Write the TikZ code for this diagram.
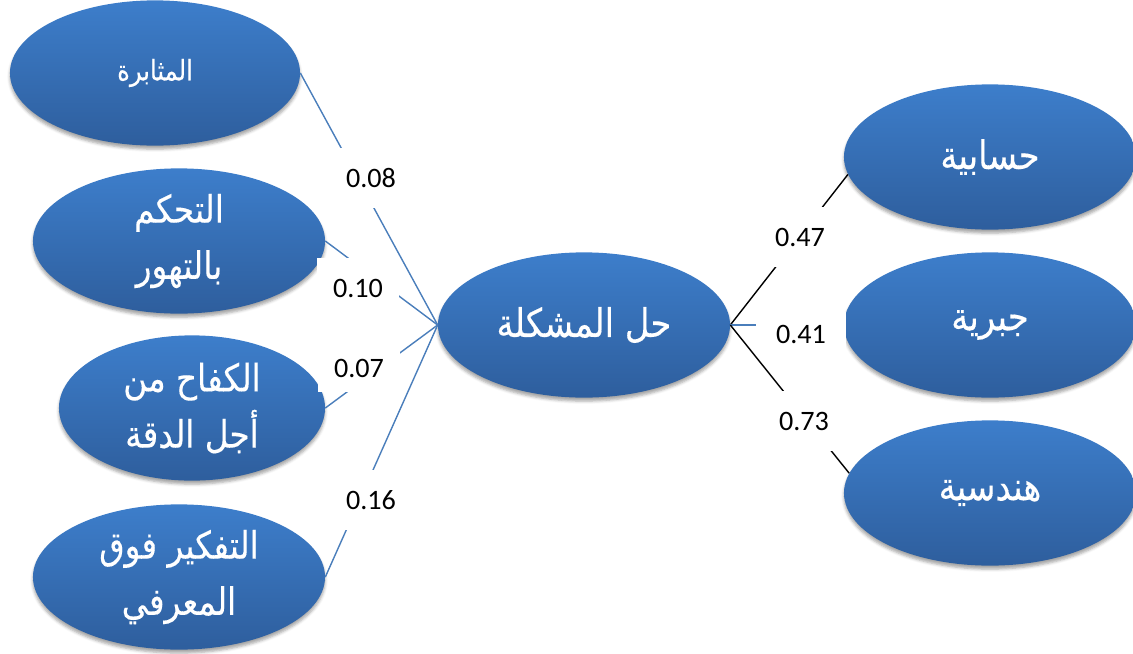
\documentclass[tikz,border=0pt]{standalone}
\usepackage{fontspec}
\setmainfont{Carlito}
\newfontfamily\arabicfont[Script=Arabic, FakeStretch=0.86, FakeBold=0.3]{DejaVu Sans}
\TeXXeTstate=1
\usepackage{tikz}
\usetikzlibrary{shapes.geometric}
\usetikzlibrary{shadows.blur}
\usepackage{xcolor}
\definecolor{blobtop}{HTML}{3D7ECB}
\definecolor{blobbot}{HTML}{2E5E9D}
\definecolor{linkblue}{HTML}{4A7EBB}
\newcommand{\artxt}[1]{{\arabicfont\beginR #1\endR}}

\begin{document}
\begin{tikzpicture}[x=0.025cm, y=-0.025cm]
                \tikzstyle{every node}=[inner sep=0pt]
                \tikzstyle{blob}=[ellipse, top color=blobtop, bottom color=blobbot,
                        text=white, align=center, minimum width=7.3cm, minimum height=3.63cm,
                        blur shadow={shadow xshift=0pt, shadow yshift=-2.5pt,
                        shadow blur radius=2pt, shadow opacity=35}]
                \tikzstyle{wt}=[fill=white, minimum width=2.1cm, minimum height=1.52cm,
                        font=\fontsize{20}{24}\selectfont]
                \useasboundingbox (0,0) rectangle (1133,653);

                % left side
                \node[blob, minimum width=7.25cm, font=\fontsize{20}{24}\selectfont]
                        (per) at (155,73) {\artxt{المثابرة}};
                \node[blob, font=\fontsize{27}{40}\selectfont]
                        (ctrl) at (179,241) {\artxt{التحكم}\\\artxt{بالتهور}};
                \node[blob, minimum width=6.65cm, font=\fontsize{27}{40}\selectfont]
                        (strive) at (192,408) {\artxt{الكفاح من}\\\artxt{أجل الدقة}};
                \node[blob, font=\fontsize{27}{40}\selectfont]
                        (meta) at (179,577) {\artxt{التفكير فوق}\\\artxt{المعرفي}};

                \node[blob, font=\fontsize{28}{32}\selectfont]
                        (solve) at (584,325) {\artxt{حل المشكلة}};

                % right side
                \node[blob, font=\fontsize{28}{32}\selectfont]
                        (arith) at (990,157) {\artxt{حسابية}};
                \node[blob, font=\fontsize{28}{32}\selectfont]
                        (alg) at (990,325) {\artxt{جبرية}};
                \node[blob, font=\fontsize{28}{32}\selectfont]
                        (geo) at (990,493) {\artxt{هندسية}};

                \draw[linkblue, line width=1pt] (per.east) -- (solve.west);
                \draw[linkblue, line width=1pt] (ctrl.east) -- (solve.west);
                \draw[linkblue, line width=1pt] (strive.east) -- (solve.west);
                \draw[linkblue, line width=1pt] (meta.east) -- (solve.west);

                \draw[black, line width=1pt] (solve.east) -- (arith.187);
                \draw[linkblue, line width=1pt] (solve.east) -- (alg.west);
                \draw[black, line width=1pt] (solve.east) -- (geo.172);

                \node[wt] (wper) at (371,178) {0.08};
                \node[wt, minimum width=2.05cm, minimum height=1.5cm] (wctrl) at (358,288) {0.10};
                \node[wt, minimum width=2.05cm, minimum height=1.2cm] (wstrive) at (359,368) {0.07};
                \node[wt] (wmeta) at (371,500) {0.16};

                \node[wt] (warith) at (800,237) {0.47};
                \node[wt, minimum width=2.25cm, minimum height=1.1cm] (walg) at (801,334) {0.41};
                \node[wt] (wgeo) at (804,421) {0.73};
\end{tikzpicture}
\end{document}
